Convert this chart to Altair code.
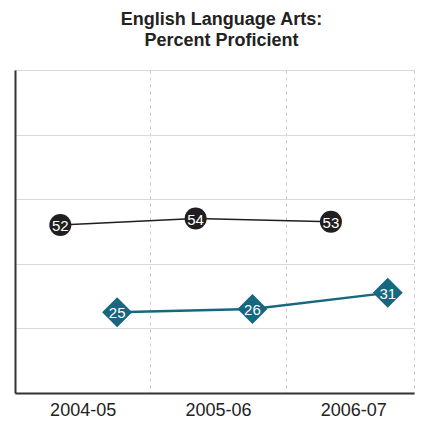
import json
import altair as alt
import pandas as pd

years = ["2004-05", "2005-06", "2006-07"]
school_values = [52, 54, 53]
comparison_values = [25, 26, 31]
series_names = ["School", "Comparison"]
# horizontal placement of each series inside its year column (fraction of column)
series_shift = {"School": 0.335, "Comparison": 0.755}

rows = []
for i, (yr, v) in enumerate(zip(years, school_values)):
    rows.append({"year": yr, "slot": i, "series": series_names[0], "value": v})
for i, (yr, v) in enumerate(zip(years, comparison_values)):
    rows.append({"year": yr, "slot": i, "series": series_names[1], "value": v})
df = pd.DataFrame(rows)
df["pos"] = df["slot"] + df["series"].map(series_shift)

FONT = "Liberation Sans"
n = len(years)
PLOT_W = 399
COL_W = 135.3  # pixel width of one year column
x_end = PLOT_W / COL_W
tick_vals = [k / 2 for k in range(2 * n)]
label_expr = f"(datum.value % 1) == 0.5 ? {json.dumps(years)}[floor(datum.value)] : ''"

x = alt.X(
    "pos:Q",
    scale=alt.Scale(domain=[0, x_end], nice=False, zero=False),
    axis=alt.Axis(title=None, values=tick_vals, labelExpr=label_expr, labelAngle=0,
                  labelFontSize=18, labelColor="#222", labelFont=FONT, labelFlush=False,
                  labelOverlap=False, ticks=False, grid=True,
                  gridDash=[3, 4], gridColor="#c8c8c8", gridWidth=1,
                  gridOpacity={"condition": {"test": "(datum.value % 1) == 0.5", "value": 0}, "value": 1},
                  domainColor="#333", domainWidth=2, labelPadding=8),
)
y = alt.Y("value:Q", scale=alt.Scale(domain=[0, 100], nice=False),
          axis=alt.Axis(values=[0, 20, 40, 60, 80, 100], labels=False, ticks=False,
                        title=None, gridColor="#d9d9d9", gridWidth=1,
                        domainColor="#333", domainWidth=2))
color = alt.Color("series:N", scale=alt.Scale(domain=series_names, range=["#201e1e", "#17687f"]),
                  legend=None)

base = alt.Chart(df).encode(x=x, y=y)

lines = base.mark_line().encode(
    color=color,
    strokeWidth=alt.StrokeWidth("series:N", scale=alt.Scale(domain=series_names, range=[1.5, 2.5]), legend=None),
    detail="series:N",
    order="slot:Q",
)
points = base.mark_point(filled=True, opacity=1).encode(
    color=color,
    shape=alt.Shape("series:N", scale=alt.Scale(domain=series_names, range=["circle", "diamond"]), legend=None),
    size=alt.Size("series:N", scale=alt.Scale(domain=series_names, range=[484, 900]), legend=None),
)
labels = base.mark_text(color="white", fontSize=15, font=FONT, baseline="middle", align="center", dy=1).encode(
    text="value:Q"
)

chart = alt.layer(lines, points, labels).properties(
    width=PLOT_W, height=323,
    padding={"left": 7, "top": 62, "right": 1, "bottom": 27},
    autosize=alt.AutoSizeParams(type="none"),
    title=alt.TitleParams(["English Language Arts:", "Percent Proficient"], fontSize=18, font=FONT,
                          fontWeight="bold", color="#222", anchor="middle", offset=20, dx=7,
                          lineHeight=21),
).configure_view(stroke="#c8c8c8", strokeDash=[3, 4], strokeWidth=1)

chart.save("out.html", embed_options={"renderer": "svg", "actions": False})
